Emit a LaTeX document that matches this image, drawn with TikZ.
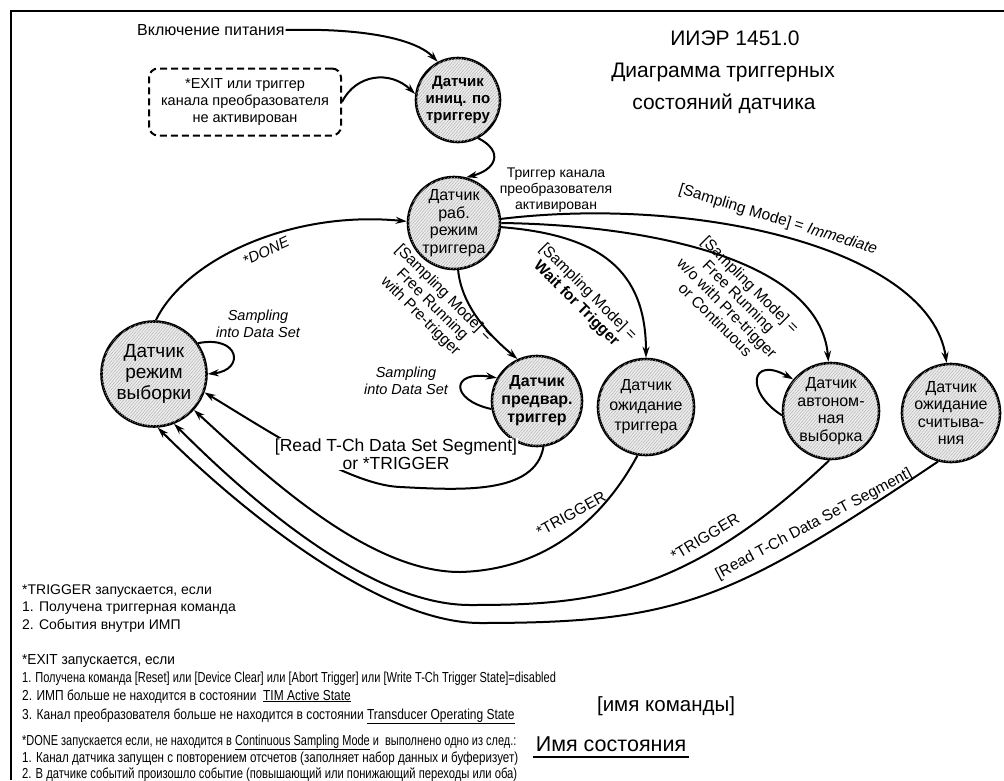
\documentclass[tikz,border=0pt]{standalone}
\usepackage{fontspec}
\setmainfont{Liberation Sans}
\usetikzlibrary{arrows.meta,patterns.meta}

\tikzset{
  state/.style={circle, draw, line width=2.6pt, inner sep=0pt, align=center,
    fill=gray!15, font=\fontsize{16}{17.5}\selectfont,
    postaction={pattern={Lines[angle=50,distance=2.3pt,line width=0.45pt]}, pattern color=gray!62}},
  edge/.style={line width=2pt, -{Stealth[length=11pt,width=7pt]}},
  lbl/.style={font=\fontsize{14}{16}\selectfont, align=center, inner sep=1pt},
  rlbl/.style={font=\fontsize{15.5}{16.5}\selectfont, align=center, inner sep=1pt},
  loopl/.style={font=\fontsize{14.5}{17}\selectfont\itshape, align=center, inner sep=1pt},
  note/.style={anchor=base west, inner sep=0pt, font=\fontsize{14}{16}\selectfont},
  nnote/.style={anchor=base west, inner sep=0pt, font=\fontsize{14.5}{16}\selectfont},
  title/.style={font=\fontsize{21}{25}\selectfont, inner sep=0pt},
}

\begin{document}
\begin{tikzpicture}[x=1pt,y=-1pt]
\useasboundingbox (0,0) rectangle (1004,780);
% frame
\draw[line width=2.2pt] (11,780) -- (11,11) -- (1004,11);

% title
\node[title] (t1) at (735,38) {ИИЭР 1451.0};
\node[title] (t2) at (723,72) {Диаграмма триггерных};
\node[title] (t3) at (724,104) {состояний датчика};

% states
\node[state, minimum size=84pt, font=\fontsize{15}{17}\selectfont\bfseries] (init) at (458,100) {Датчик\\иниц. по\\триггеру};
\node[state, minimum size=92pt] (work) at (454,223) {Датчик\\раб.\\режим\\триггера};
\node[state, minimum size=105pt, font=\fontsize{19}{21}\selectfont] (samp) at (154,374) {Датчик\\режим\\выборки};
\node[state, minimum size=90pt, font=\fontsize{16}{18}\selectfont\bfseries] (pre) at (537,401) {Датчик\\предвар.\\триггер};
\node[state, minimum size=96pt, font=\fontsize{16}{20}\selectfont] (wait) at (646,407) {Датчик\\ожидание\\триггера};
\node[state, minimum size=96pt] (free) at (831,411) {Датчик\\автоном-\\ная\\выборка};
\node[state, minimum size=98pt] (read) at (951,413) {Датчик\\ожидание\\считыва-\\ния};

% entry
\node[lbl, font=\fontsize{16}{18}\selectfont, anchor=west] (pwr) at (136,30) {Включение питания};
\node[draw, dashed, line width=2pt, rounded corners=9pt, dash pattern=on 7pt off 4pt,
  minimum width=192pt, minimum height=67pt, align=center,
  font=\fontsize{14.5}{17}\selectfont] (exitbox) at (245,102) {*EXIT или триггер\\канала преобразователя\\не активирован};

\draw[edge] (pwr.east) .. controls (360,28) and (415,38) .. (init.118);
\draw[edge] (exitbox.east) .. controls (356,74) and (390,70) .. (init.172);
\draw[edge] (init.-62) .. controls (505,152) and (495,170) .. (work.75);
\node[lbl] (actlbl) at (556,190) {Триггер канала\\преобразователя\\активирован};

% from the working state
\draw[edge] (work.5) .. controls (700,195) and (930,250) .. (read.95);
\node[rlbl, rotate=-17] (immlbl) at (778,220) {[Sampling Mode] = \textit{Immediate}};
\draw[edge] (work.0) .. controls (650,225) and (820,260) .. (free.93);
\node[rlbl, rotate=-45] (freelbl) at (733,302) {[Sampling Mode] =\\Free Running\\w/o with Pre-trigger\\or Continuous};
\draw[edge] (work.-5) .. controls (600,235) and (646,270) .. (wait.90);
\node[rlbl, rotate=-45] (waitlbl) at (582,298) {[Sampling Mode] =\\\textbf{Wait for Trigger}};
\draw[edge] (work.-85) .. controls (462,310) and (495,340) .. (pre.115);
\node[rlbl, rotate=-45] (prelbl) at (432,305) {[Sampling Mode] =\\Free Running\\with Pre-trigger};

% done
\draw[edge] (samp.88) .. controls (185,260) and (290,210) .. (work.178);
\node[rlbl, rotate=25, font=\fontsize{15}{16}\itshape] (donelbl) at (266,251) {*DONE};

% self loops
\draw[edge] (samp.35) .. controls (240,335) and (245,370) .. (samp.0);
\node[loopl] (samplbl) at (258,324) {Sampling\\into Data Set};
\draw[edge] (pre.190) .. controls (450,400) and (450,370) .. (pre.150);
\node[loopl] (prelooplbl) at (406,381) {Sampling\\into Data Set};
\draw[edge] (free.185) .. controls (745,392) and (750,355) .. (free.140);

% returns to sampling
\draw[edge] (pre.-82) .. controls (535,495) and (460,490) .. (400,487)
  .. controls (350,485) and (270,432) .. (samp.-20);
\node[lbl, font=\fontsize{17.5}{18}\selectfont, fill=white, inner sep=0.5pt] (rdlbl) at (396,454) {[Read T-Ch Data Set Segment]\\or *TRIGGER};
\draw[edge] (wait.-100) .. controls (600,525) and (540,570) .. (460,572)
  .. controls (370,572) and (270,480) .. (samp.-42);
\node[rlbl, rotate=29] (trg1) at (571,514) {*TRIGGER};
\draw[edge] (free.-92) .. controls (685,597) and (590,605) .. (470,605)
  .. controls (370,605) and (250,500) .. (samp.-68);
\node[rlbl, rotate=31] (trg2) at (705,537) {*TRIGGER};
\draw[edge] (read.-105) .. controls (730,601) and (680,623) .. (480,623)
  .. controls (380,623) and (240,510) .. (samp.-86);
\node[rlbl, rotate=28] (rdseg) at (814,524) {[Read T-Ch Data SeT Segment]};

% notes
\node[note] (n1) at (22,594) {*TRIGGER запускается, если};
\node[note] (n2) at (22,611) {1. Получена триггерная команда};
\node[note] (n3) at (22,629) {2. События внутри ИМП};
\node[nnote, xscale=0.94] (e0) at (22,664) {*EXIT запускается, если};
\node[nnote, xscale=0.76] (e1) at (22,682) {1. Получена команда [Reset] или [Device Clear] или [Abort Trigger] или [Write T-Ch Trigger State]=disabled};
\node[nnote, xscale=0.824] (e2) at (22,700) {2. ИМП больше не находится в состоянии \ \underline{TIM Active State}};
\node[nnote, xscale=0.827] (e3) at (22,719) {3. Канал преобразователя больше не находится в состоянии \underline{Transducer Operating State}};
\node[nnote, xscale=0.757] (d0) at (22,745) {*DONE запускается если, не находится в \underline{Continuous Sampling Mode} и \ выполнено одно из след.:};
\node[nnote, xscale=0.8] (d1) at (22,762) {1. Канал датчика запущен с повторением отсчетов (заполняет набор данных и буферизует)};
\node[nnote, xscale=0.774] (d2) at (22,778) {2. В датчике событий произошло событие (повышающий или понижающий переходы или оба)};

% legend
\node[font=\fontsize{20.5}{22}\selectfont, inner sep=0pt] (cmd) at (666,706) {[имя команды]};
\node[font=\fontsize{21.5}{23}\selectfont, inner sep=0pt] (stname) at (611,744) {Имя состояния};
\draw[line width=2pt] ([xshift=-3pt,yshift=-5pt]stname.south west) -- ([xshift=3pt,yshift=-5pt]stname.south east);
\end{tikzpicture}
\end{document}
